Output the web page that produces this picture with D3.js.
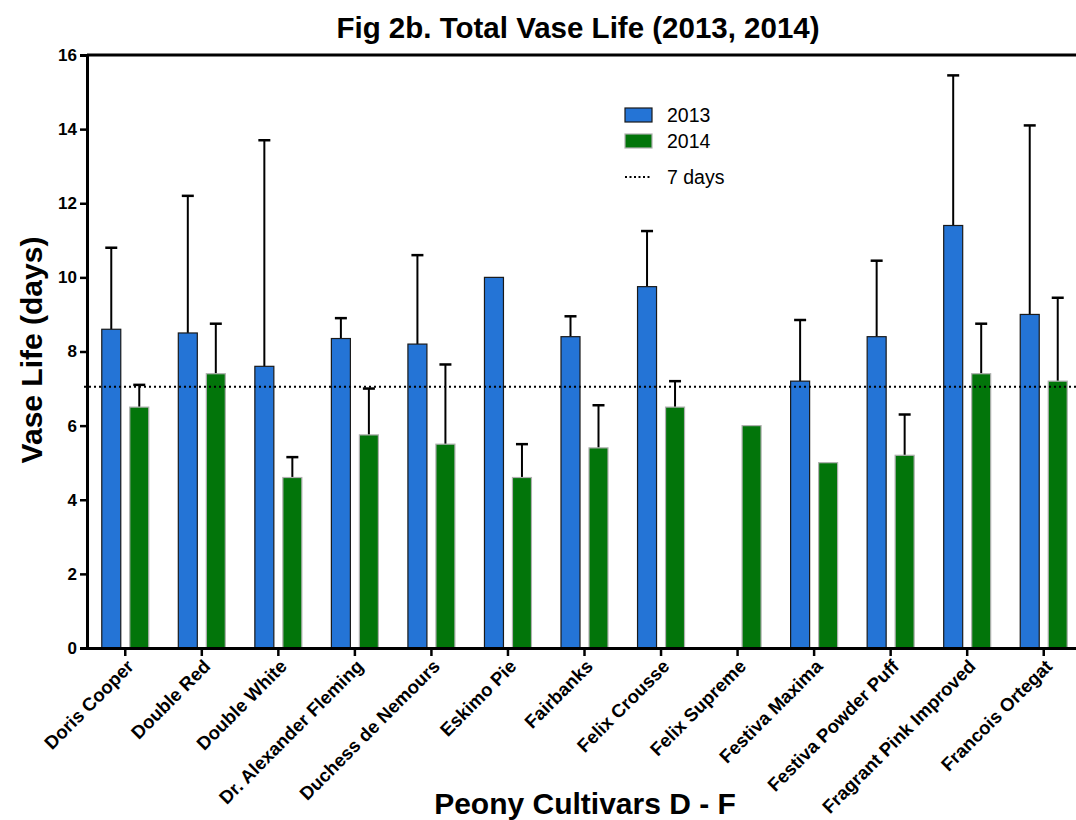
<!doctype html>
<html lang="en">
<head>
<meta charset="UTF-8">
<title>Fig 2b. Total Vase Life</title>
<style>
  body { margin: 0; background: #fff; }
  svg { display: block; font-family: Arial, "Liberation Sans", sans-serif; }
</style>
</head>
<body>
<svg id="chart" width="1076" height="820"></svg>
<script src="https://cdn.jsdelivr.net/npm/d3@7"></script>
<script>
// cultivars and values
var cultivars = ["Doris Cooper", "Double Red", "Double White", "Dr. Alexander Fleming",
  "Duchess de Nemours", "Eskimo Pie", "Fairbanks", "Felix Crousse", "Felix Supreme",
  "Festiva Maxima", "Festiva Powder Puff", "Fragrant Pink Improved", "Francois Ortegat"];
var mean2013 = [8.6, 8.5, 7.6, 8.35, 8.2, 10.0, 8.4, 9.75, null, 7.2, 8.4, 11.4, 9.0];
var err2013  = [10.8, 12.2, 13.7, 8.9, 10.6, null, 8.95, 11.25, null, 8.85, 10.45, 15.45, 14.1];
var mean2014 = [6.5, 7.4, 4.6, 5.75, 5.5, 4.6, 5.4, 6.5, 6.0, 5.0, 5.2, 7.4, 7.2];
var err2014  = [7.1, 8.75, 5.15, 7.0, 7.65, 5.5, 6.55, 7.2, null, null, 6.3, 8.75, 9.45];
var yTicks = [0, 2, 4, 6, 8, 10, 12, 14, 16];
var threshold = 7.05;

var svg = d3.select("#chart");
var mLeft = 87, mRight = 1082, mTop = 55, mBottom = 648;

var x = d3.scaleBand().domain(cultivars).range([mLeft, mRight]);
var y = d3.scaleLinear().domain([0, 16]).range([mBottom, mTop]);

var barW = 19, off = 14; // bar width, half distance between bar centres

var series = [
  { name: "2013", mean: mean2013, err: err2013, fill: "#2474d6", stroke: "#1a1a1a", dx: -off },
  { name: "2014", mean: mean2014, err: err2014, fill: "#02750a", stroke: "#b0b0b0", dx: off }
];

// error bars first (drawn behind bars)
series.forEach(function(s) {
  var g = svg.append("g");
  cultivars.forEach(function(c, i) {
    if (s.err[i] == null || s.mean[i] == null) return;
    var cx = x(c) + x.bandwidth() / 2 + s.dx;
    g.append("line").attr("x1", cx).attr("x2", cx)
      .attr("y1", y(s.mean[i])).attr("y2", y(s.err[i]))
      .attr("stroke", "#000").attr("stroke-width", 2);
    g.append("line").attr("x1", cx - 6).attr("x2", cx + 6)
      .attr("y1", y(s.err[i])).attr("y2", y(s.err[i]))
      .attr("stroke", "#000").attr("stroke-width", 2.5);
  });
});

series.forEach(function(s) {
  svg.append("g").selectAll("rect")
    .data(cultivars.map(function(c, i) { return { c: c, v: s.mean[i] }; }).filter(function(d) { return d.v != null; }))
    .enter().append("rect")
      .attr("x", function(d) { return x(d.c) + x.bandwidth() / 2 + s.dx - barW / 2; })
      .attr("y", function(d) { return y(d.v); })
      .attr("width", barW)
      .attr("height", function(d) { return y(0) - y(d.v); })
      .attr("fill", s.fill)
      .attr("stroke", s.stroke)
      .attr("stroke-width", 1.2);
});

// 7 day line
svg.append("line")
  .attr("x1", mLeft - 3).attr("x2", 1076)
  .attr("y1", y(threshold)).attr("y2", y(threshold))
  .attr("stroke", "#000").attr("stroke-width", 2).attr("stroke-dasharray", "2,3");

// top frame line
svg.append("line").attr("x1", mLeft).attr("x2", 1076)
  .attr("y1", mTop).attr("y2", mTop).attr("stroke", "#000").attr("stroke-width", 3);

// y axis
var yAxis = svg.append("g").attr("transform", "translate(" + mLeft + ",0)")
  .call(d3.axisLeft(y).tickValues(yTicks).tickSize(7).tickPadding(3));
yAxis.select(".domain").attr("stroke-width", 3);
yAxis.selectAll(".tick line").attr("stroke-width", 2.5);
yAxis.selectAll("text").attr("font-size", 17).attr("font-weight", "bold").attr("fill", "#000");

// x axis
var xAxis = svg.append("g").attr("transform", "translate(0," + mBottom + ")")
  .call(d3.axisBottom(x).tickSize(8).tickSizeOuter(0));
xAxis.select(".domain").attr("stroke-width", 3);
xAxis.selectAll(".tick line").attr("stroke-width", 2.5);
xAxis.selectAll("text")
  .attr("font-size", 18.5).attr("font-weight", "bold").attr("fill", "#000")
  .attr("text-anchor", "end")
  .attr("transform", "translate(5,15) rotate(-45)")
  .attr("dy", "0.35em").attr("y", 0).attr("x", 0);

// titles
svg.append("text").attr("x", 578).attr("y", 38).attr("text-anchor", "middle")
  .attr("font-size", 29.5).attr("font-weight", "bold").text("Fig 2b. Total Vase Life (2013, 2014)");
svg.append("text").attr("transform", "translate(42,350) rotate(-90)").attr("text-anchor", "middle")
  .attr("font-size", 30).attr("font-weight", "bold").text("Vase Life (days)");
svg.append("text").attr("x", 585).attr("y", 814).attr("text-anchor", "middle")
  .attr("font-size", 30).attr("font-weight", "bold").text("Peony Cultivars D - F");

// legend
var legend = svg.append("g").attr("transform", "translate(625,108)");
series.forEach(function(s, i) {
  legend.append("rect").attr("x", 0).attr("y", i * 26).attr("width", 27).attr("height", 14)
    .attr("fill", s.fill).attr("stroke", s.stroke).attr("stroke-width", 1.2);
  legend.append("text").attr("x", 42).attr("y", i * 26 + 14).attr("font-size", 19.5).text(s.name);
});
legend.append("line").attr("x1", 0).attr("x2", 27).attr("y1", 69).attr("y2", 69)
  .attr("stroke", "#000").attr("stroke-width", 2).attr("stroke-dasharray", "2,2.5");
legend.append("text").attr("x", 42).attr("y", 76).attr("font-size", 19.5).text("7 days");
</script>
</body>
</html>
